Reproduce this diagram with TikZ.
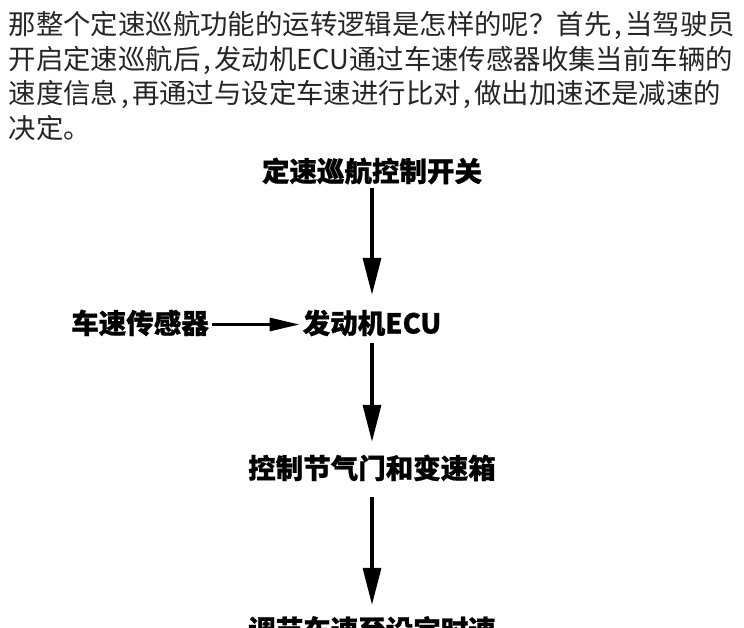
\documentclass[tikz,border=0pt]{standalone}
\usepackage{fontspec}
\usetikzlibrary{arrows.meta}
\newfontfamily\cjk{Noto Sans CJK SC}
\newcommand\halfcomma{\makebox[0.5em][c]{,}}
\begin{document}
\begin{tikzpicture}[x=1pt,y=1pt,
  para/.style={anchor=base west, inner sep=0pt, font=\cjk\fontsize{27.4}{34}\selectfont, text=black!85},
  lab/.style={anchor=base, inner sep=0pt, font=\cjk\bfseries\addfontfeatures{FakeBold=0.8}\fontsize{27.5}{30}\selectfont, text height=22pt, text depth=4pt},
  varrow/.style={line width=3.3pt, -{Triangle[length=37pt,width=18pt]}},
  harrow/.style={line width=3pt, -{Triangle[length=30pt,width=13pt]}}]
\useasboundingbox (0,0) rectangle (744,-627);
\fill[white] (0,0) rectangle (744,-627);
% paragraph
\node[para] (p1) at (8.5,-34.4) {那整个定速巡航功能的运转逻辑是怎样的呢？首先\halfcomma 当驾驶员};
\node[para] (p2) at (8.5,-69) {开启定速巡航后\halfcomma 发动机ECU通过车速传感器收集当前车辆的};
\node[para] (p3) at (8.5,-103.5) {速度信息\halfcomma 再通过与设定车速进行比对\halfcomma 做出加速还是减速的};
\node[para] (p4) at (8.5,-138) {决定。};
% flowchart
\node[lab] (sw) at (372,-181.5) {定速巡航控制开关};
\node[lab] (ecu) at (372,-333.5) {发动机ECU};
\node[lab] (vs) at (140,-333.5) {车速传感器};
\node[lab] (ctl) at (372,-478.5) {控制节气门和变速箱};
\node[lab] (adj) at (372,-640) {调节车速至设定时速};
\draw[varrow, shorten <=2.5pt, shorten >=16.5pt] (sw.south) -- (sw.south |- ecu.north);
\draw[varrow, shorten <=5.5pt, shorten >=14.5pt] (ecu.south) -- (ecu.south |- ctl.north);
\draw[varrow, shorten <=14.5pt, shorten >=13pt] (ctl.south) -- (ctl.south |- adj.north);
\draw[harrow, shorten <=3pt, shorten >=3pt] (vs.east) -- (vs.east -| ecu.west);
\end{tikzpicture}
\end{document}
